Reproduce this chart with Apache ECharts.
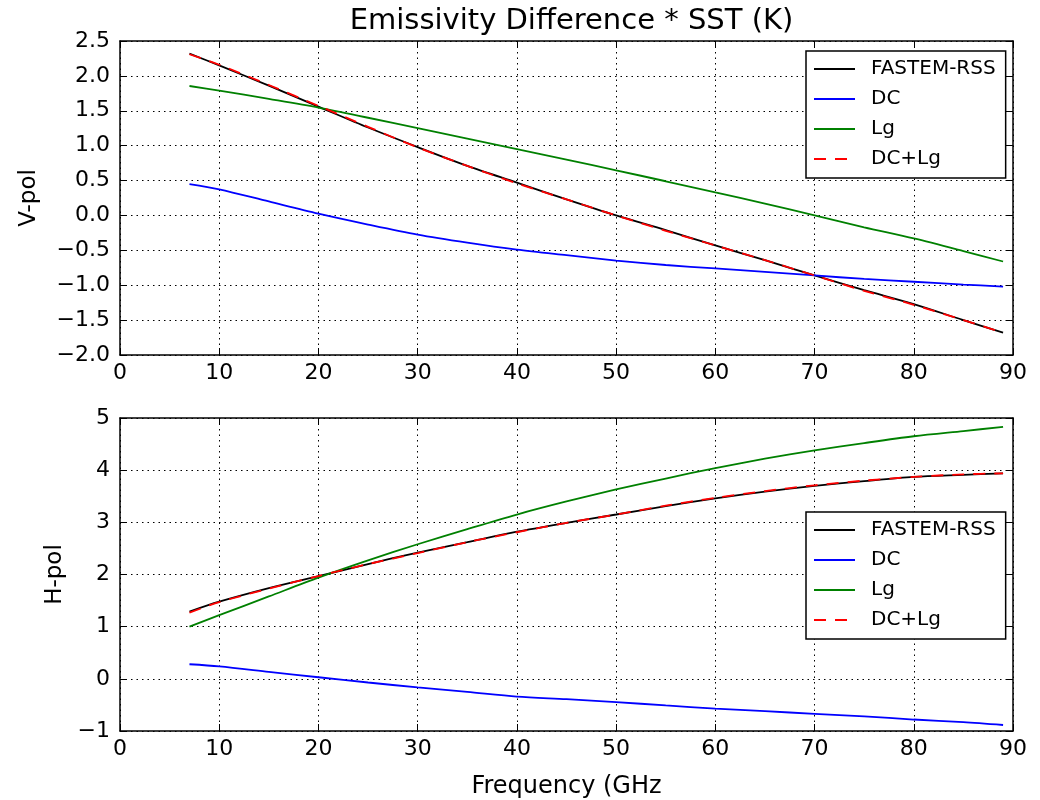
<!DOCTYPE html>
<html>
<head>
<meta charset="utf-8">
<script src="https://cdn.jsdelivr.net/npm/echarts@6/dist/echarts.min.js"></script>
<style>html,body{margin:0;padding:0;background:#fff}#c{width:1040px;height:800px}</style>
</head>
<body>
<div id="c"></div>
<script>
const freq = [7, 10, 15, 20, 25, 30, 35, 40, 45, 50, 55, 60, 65, 70, 75, 80, 85, 89];
const seriesNames = ['FASTEM-RSS', 'DC', 'Lg', 'DC+Lg'];
const vFastem = [2.32, 2.15, 1.86, 1.56, 1.26, 0.98, 0.71, 0.47, 0.23, 0.00, -0.21, -0.43, -0.64, -0.86, -1.07, -1.27, -1.50, -1.68];
const vDC     = [0.45, 0.375, 0.20, 0.026, -0.13, -0.275, -0.39, -0.49, -0.57, -0.647, -0.71, -0.76, -0.81, -0.86, -0.91, -0.95, -0.99, -1.02];
const vLg     = [1.855, 1.79, 1.67, 1.545, 1.40, 1.25, 1.10, 0.95, 0.80, 0.647, 0.49, 0.33, 0.17, 0.0, -0.17, -0.33, -0.51, -0.66];
const vSum    = [2.31, 2.16, 1.87, 1.57, 1.27, 0.975, 0.71, 0.46, 0.23, 0.0, -0.22, -0.43, -0.64, -0.86, -1.08, -1.28, -1.50, -1.68];
const hFastem = [1.29, 1.48, 1.74, 1.97, 2.20, 2.42, 2.62, 2.82, 2.99, 3.15, 3.31, 3.46, 3.59, 3.70, 3.79, 3.87, 3.91, 3.94];
const hDC     = [0.28, 0.24, 0.135, 0.03, -0.07, -0.165, -0.25, -0.34, -0.39, -0.446, -0.51, -0.57, -0.62, -0.67, -0.72, -0.78, -0.83, -0.885];
const hLg     = [1.0, 1.22, 1.58, 1.94, 2.27, 2.58, 2.87, 3.15, 3.40, 3.63, 3.84, 4.04, 4.22, 4.38, 4.52, 4.65, 4.75, 4.83];
const hSum    = [1.27, 1.47, 1.73, 1.97, 2.20, 2.41, 2.62, 2.81, 2.99, 3.15, 3.32, 3.47, 3.60, 3.71, 3.80, 3.87, 3.92, 3.94];

const FONT = 'DejaVu Sans';
const pair = (ys) => freq.map((x, i) => [x, ys[i]]);
const minus = (s) => String(s).replace('-', '\u2212');

function xAx(gi, pos, showLabels, name) {
  return {
    type: 'value', gridIndex: gi, position: pos, min: 0, max: 90, interval: 10,
    axisLine: { show: true, onZero: false, lineStyle: { color: '#000', width: 1.5 } },
    axisTick: { show: true, inside: true, length: 7, lineStyle: { color: '#000', width: 1 } },
    axisLabel: { show: showLabels, color: '#000', fontFamily: FONT, fontSize: 22, margin: 7 },
    splitLine: { show: showLabels, lineStyle: { color: '#000', type: [1.5, 4], width: 1 } },
    name: name || '', nameLocation: 'middle', nameGap: 44,
    nameTextStyle: { color: '#000', fontFamily: FONT, fontSize: 24 }
  };
}
function yAx(gi, pos, showLabels, min, max, interval, dec, name, gap) {
  return {
    type: 'value', gridIndex: gi, position: pos, min: min, max: max, interval: interval,
    axisLine: { show: true, onZero: false, lineStyle: { color: '#000', width: 1.5 } },
    axisTick: { show: true, inside: true, length: 7, lineStyle: { color: '#000', width: 1 } },
    axisLabel: { show: showLabels, color: '#000', fontFamily: FONT, fontSize: 22, margin: 10,
      formatter: (v) => minus(v.toFixed(dec)) },
    splitLine: { show: showLabels, lineStyle: { color: '#000', type: [1.5, 4], width: 1 } },
    name: name || '', nameLocation: 'middle', nameGap: gap || 0, nameRotate: 90,
    nameTextStyle: { color: '#000', fontFamily: FONT, fontSize: 23 }
  };
}
const colors = ['#000000', '#0000ff', '#008000', '#ff0000'];
function mk(name, data, gi, idx) {
  return {
    type: 'line', name: name, xAxisIndex: gi * 2, yAxisIndex: gi * 2, data: pair(data),
    symbol: 'none', smooth: 0.3, z: 2 + idx,
    lineStyle: { color: colors[idx], width: 1.8, type: idx === 3 ? [12, 9] : 'solid' },
    itemStyle: { color: colors[idx] }
  };
}
function legend(top) {
  return {
    orient: 'vertical', left: 806, top: top, data: seriesNames,
    itemWidth: 41, itemHeight: 18, itemGap: 10,
    padding: [8, 10, 9, 7],
    borderColor: '#000', borderWidth: 1.5, backgroundColor: '#fff',
    itemStyle: { opacity: 0 },
    textStyle: { color: '#000', fontFamily: FONT, fontSize: 20, padding: [0, 0, 0, 11] },
    selectedMode: false
  };
}

const chart = echarts.init(document.getElementById('c'), null, { renderer: 'canvas' });
chart.setOption({
  animation: false,
  backgroundColor: '#fff',
  title: { text: 'Emissivity Difference * SST (K)', left: 566.5, textAlign: 'center', top: 2,
    textStyle: { color: '#000', fontFamily: FONT, fontSize: 29, fontWeight: 'normal' } },
  grid: [
    { left: 120, top: 41, width: 893, height: 314 },
    { left: 120, top: 418, width: 893, height: 314 }
  ],
  xAxis: [
    xAx(0, 'bottom', true), xAx(0, 'top', false),
    xAx(1, 'bottom', true, 'Frequency (GHz'), xAx(1, 'top', false)
  ],
  yAxis: [
    yAx(0, 'left', true, -2.0, 2.5, 0.5, 1, 'V-pol', 79), yAx(0, 'right', false, -2.0, 2.5, 0.5, 1),
    yAx(1, 'left', true, -1, 5, 1, 0, 'H-pol', 53), yAx(1, 'right', false, -1, 5, 1, 0)
  ],
  legend: [legend(51), legend(512)],
  series: [
    mk('FASTEM-RSS', vFastem, 0, 0), mk('DC', vDC, 0, 1), mk('Lg', vLg, 0, 2), mk('DC+Lg', vSum, 0, 3),
    mk('FASTEM-RSS', hFastem, 1, 0), mk('DC', hDC, 1, 1), mk('Lg', hLg, 1, 2), mk('DC+Lg', hSum, 1, 3)
  ]
});
</script>
</body>
</html>
